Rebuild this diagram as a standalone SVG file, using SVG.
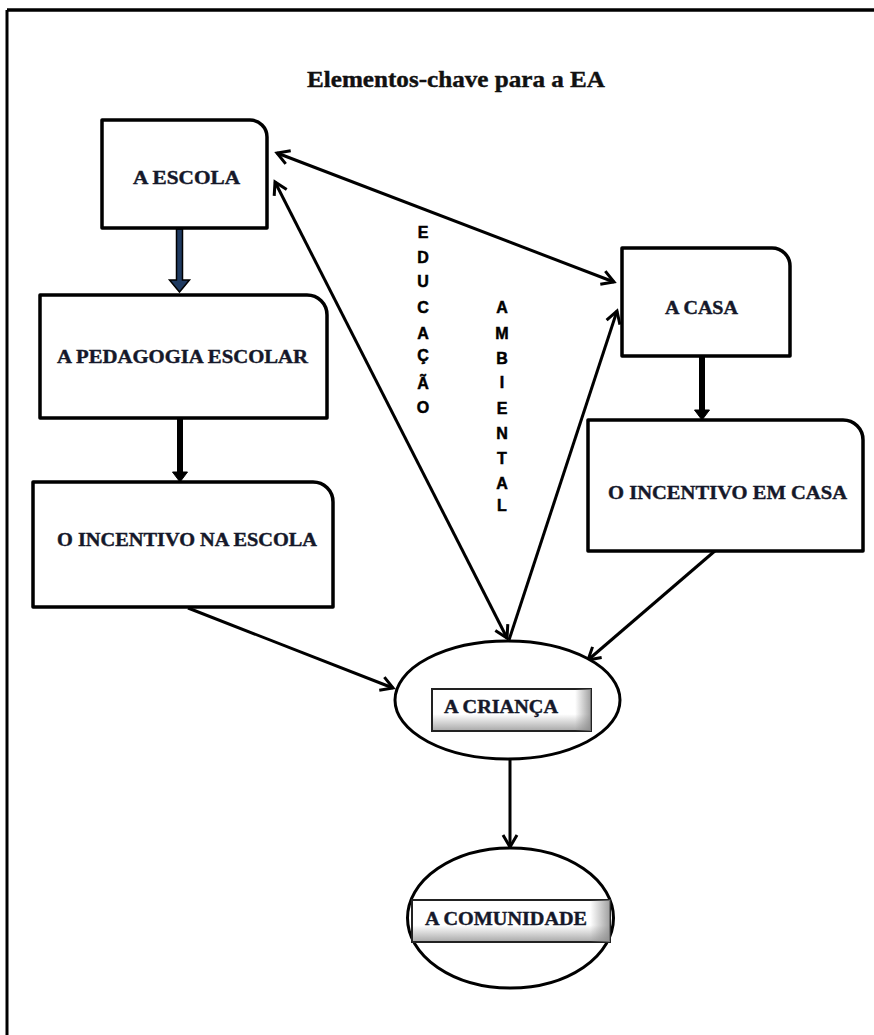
<svg xmlns="http://www.w3.org/2000/svg" width="874" height="1035" viewBox="0 0 874 1035">
<style>
.box{fill:#fff;stroke:#000;stroke-width:3.5;stroke-linejoin:round}
.ell{fill:#fff;stroke:#000;stroke-width:3}
.lbl{font-family:"Liberation Serif","Times New Roman",serif;font-weight:bold;font-size:18px;fill:#15182a;stroke:#15182a;stroke-width:0.4}
.title{font-family:"Liberation Serif","Times New Roman",serif;font-weight:bold;font-size:23px;fill:#111;stroke:#111;stroke-width:0.4}
.vert{font-family:"Liberation Sans",Arial,sans-serif;font-weight:bold;font-size:16px;fill:#000;stroke:#000;stroke-width:0.5;text-anchor:middle}
.con{stroke:#000;stroke-width:3;fill:none}
.inner{fill:url(#gv);stroke:#222;stroke-width:2}
</style>
<defs>
<marker id="ah" markerUnits="userSpaceOnUse" markerWidth="20" markerHeight="20" viewBox="0 0 20 20" refX="14" refY="10" orient="auto-start-reverse">
<path d="M2,3 L14,10 L2,17" fill="none" stroke="#000" stroke-width="3"/>
</marker>
<linearGradient id="gv" x1="0" y1="0" x2="0" y2="1">
<stop offset="0" stop-color="#fff"/>
<stop offset="0.6" stop-color="#fff"/>
<stop offset="1" stop-color="#a8a8a8"/>
</linearGradient>
<linearGradient id="gh" x1="0" y1="0" x2="1" y2="0">
<stop offset="0.9" stop-color="#888" stop-opacity="0"/>
<stop offset="1" stop-color="#888" stop-opacity="0.8"/>
</linearGradient>
</defs>
<rect width="874" height="1035" fill="#fff"/>
<g id="frame">
<line x1="7" y1="10" x2="874" y2="10" stroke="#000" stroke-width="3.5"/>
<line x1="7" y1="10" x2="7" y2="1035" stroke="#000" stroke-width="3"/>
</g>
<g id="title">
<text class="title" x="307" y="87" textLength="298" lengthAdjust="spacingAndGlyphs">Elementos-chave para a EA</text>
</g>
<g id="connectors">
<line class="con" x1="277" y1="153" x2="614" y2="282" marker-start="url(#ah)" marker-end="url(#ah)"/>
<line class="con" x1="275" y1="182" x2="507" y2="638" marker-start="url(#ah)" marker-end="url(#ah)"/>
<line class="con" x1="509" y1="640" x2="617" y2="311" marker-end="url(#ah)"/>
<line class="con" x1="188" y1="608" x2="393" y2="688" marker-end="url(#ah)"/>
<line class="con" x1="716" y1="550" x2="588" y2="660" marker-end="url(#ah)"/>
<line class="con" x1="510" y1="760" x2="510" y2="847" marker-end="url(#ah)"/>
<polygon points="176.5,229 182.5,229 182.5,280 189.5,280 179.5,292 169.5,280 176.5,280" fill="#1f3a60" stroke="#000" stroke-width="1.5"/>
<polygon points="177.5,419 182.5,419 182.5,472 187.5,472 180,482 172.5,472 177.5,472" fill="#000" stroke="#000" stroke-width="1"/>
<polygon points="699.5,357 704.5,357 704.5,410 709.5,410 702,420 694.5,410 699.5,410" fill="#000" stroke="#000" stroke-width="1"/>
</g>
<g id="escola">
<path class="box" d="M102,120 H250 A17,17 0 0 1 267,137 V228 H102 Z"/>
<text class="lbl" x="133" y="184" textLength="107" lengthAdjust="spacingAndGlyphs">A ESCOLA</text>
</g>
<g id="pedagogia">
<path class="box" d="M40,295 H307 A20,20 0 0 1 327,315 V418 H40 Z"/>
<text class="lbl" x="57" y="363" textLength="251" lengthAdjust="spacingAndGlyphs">A PEDAGOGIA ESCOLAR</text>
</g>
<g id="incentivo-escola">
<path class="box" d="M33,482 H313 A20,20 0 0 1 333,502 V607 H33 Z"/>
<text class="lbl" x="57" y="546" textLength="260" lengthAdjust="spacingAndGlyphs">O INCENTIVO NA ESCOLA</text>
</g>
<g id="casa">
<path class="box" d="M622,248 H772 A18,18 0 0 1 790,266 V356 H622 Z"/>
<text class="lbl" x="665" y="314" textLength="73" lengthAdjust="spacingAndGlyphs">A CASA</text>
</g>
<g id="incentivo-casa">
<path class="box" d="M588,420 H843 A20,20 0 0 1 863,440 V551 H588 Z"/>
<text class="lbl" x="608" y="499" textLength="239" lengthAdjust="spacingAndGlyphs">O INCENTIVO EM CASA</text>
</g>
<g id="crianca">
<ellipse class="ell" cx="507.5" cy="700" rx="112.5" ry="59"/>
<rect class="inner" x="432" y="689" width="159" height="42"/>
<rect x="432" y="689" width="159" height="42" fill="url(#gh)"/>
<text class="lbl" x="444" y="713" textLength="114" lengthAdjust="spacingAndGlyphs">A CRIANÇA</text>
</g>
<g id="comunidade">
<ellipse class="ell" cx="510.5" cy="918" rx="103" ry="70"/>
<rect class="inner" x="412" y="900" width="198" height="42"/>
<rect x="412" y="900" width="198" height="42" fill="url(#gh)"/>
<text class="lbl" x="425" y="925" textLength="162" lengthAdjust="spacingAndGlyphs">A COMUNIDADE</text>
</g>
<g id="educacao">
<text class="vert" x="423" y="238">E</text>
<text class="vert" x="423" y="263">D</text>
<text class="vert" x="423" y="287">U</text>
<text class="vert" x="423" y="313">C</text>
<text class="vert" x="423" y="339">A</text>
<text class="vert" x="423" y="361">Ç</text>
<text class="vert" x="423" y="389">Ã</text>
<text class="vert" x="423" y="413">O</text>
</g>
<g id="ambiental">
<text class="vert" x="502" y="313">A</text>
<text class="vert" x="502" y="339">M</text>
<text class="vert" x="502" y="364">B</text>
<text class="vert" x="502" y="388">I</text>
<text class="vert" x="502" y="414">E</text>
<text class="vert" x="502" y="439">N</text>
<text class="vert" x="502" y="464">T</text>
<text class="vert" x="502" y="489">A</text>
<text class="vert" x="502" y="511">L</text>
</g>
</svg>
